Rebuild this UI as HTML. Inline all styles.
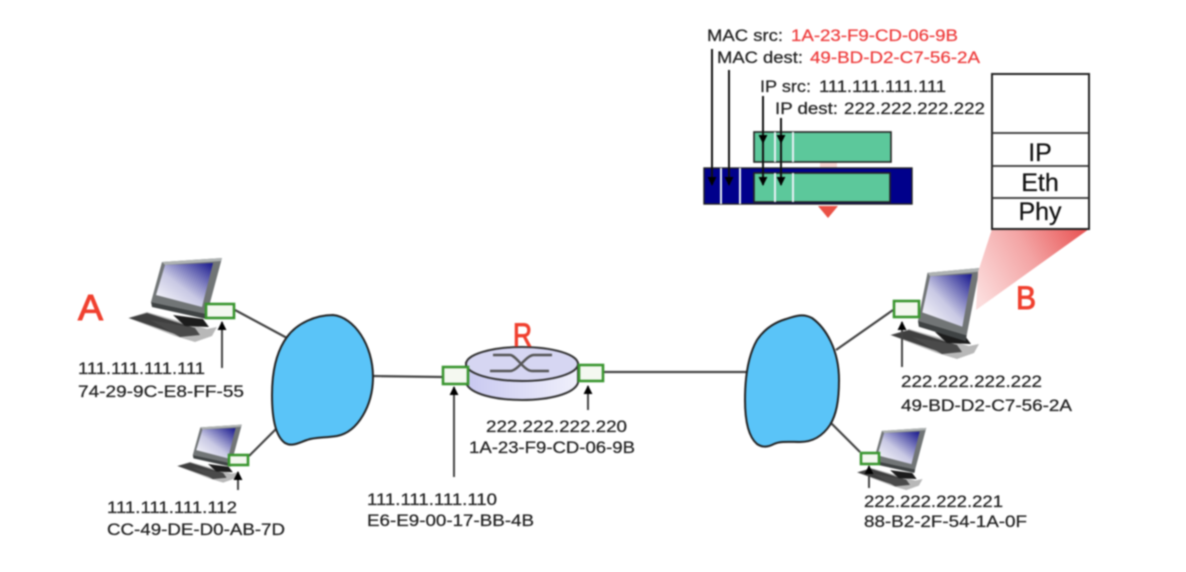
<!DOCTYPE html>
<html>
<head>
<meta charset="utf-8">
<style>
html,body{margin:0;padding:0;background:#fff;width:1186px;height:572px;overflow:hidden}
svg{display:block;filter:blur(.7px)}
text{font-family:"Liberation Sans",sans-serif;fill:#222;font-size:17px;stroke:#222;stroke-width:.25}
.r{fill:#ee3d3d;stroke:#ee3d3d}
.big{fill:#f0402f;stroke:#f0402f;stroke-width:1;font-size:32px}
.st{font-size:25px;text-anchor:middle;fill:#111;stroke:#111}
.nic{fill:#f4f8f0;stroke:#3a9630;stroke-width:2.6}
.ln{stroke:#444;stroke-width:2.2;fill:none}
.ar{stroke:#444;stroke-width:2;fill:none}
.cl{fill:#5ac4f8;stroke:#222;stroke-width:2}
</style>
</head>
<body>
<svg width="1186" height="572" viewBox="0 0 1186 572" xmlns="http://www.w3.org/2000/svg">
<defs>
<linearGradient id="scr" x1="0" y1="1" x2="1" y2="0">
<stop offset="0" stop-color="#ffffff"/><stop offset=".45" stop-color="#c9c9e4"/><stop offset="1" stop-color="#16168c"/>
</linearGradient>
<linearGradient id="pink" gradientUnits="userSpaceOnUse" x1="975" y1="290" x2="1089" y2="229">
<stop offset="0" stop-color="#fbdcdc"/><stop offset=".5" stop-color="#f3a4a4"/><stop offset="1" stop-color="#e84f4f"/>
</linearGradient>
<linearGradient id="rt" x1="0" y1="0" x2="1" y2="0">
<stop offset="0" stop-color="#c8c8f0"/><stop offset="1" stop-color="#f0f0fb"/>
</linearGradient>
<marker id="h" viewBox="0 0 10 10" refX="9" refY="5" markerWidth="9" markerHeight="9" orient="auto" markerUnits="userSpaceOnUse"><path d="M0 0L10 5L0 10z" fill="#000"/></marker>
<g id="kb">
<polygon points="128,318 147,312 207,329 217,327 212,336 195,342 175,336" fill="#b8b8b8"/>
<polygon points="129,318 147,313 195,328 178,335" fill="#3f3f3f"/>
<polygon points="150,320 195,328 200,335 180,337" fill="#4a4a4a"/>
<polygon points="173,315 203,319 209,327 185,326" fill="#1c1c1c"/>
</g>
<g id="mon">
<polygon points="162,262 222,258 207,314 151,302" fill="#717576"/>
<polygon points="162,262 222,258 221,261 165,265" fill="#aeb2b2"/>
<polygon points="151,302 207,314 206,319 152,307" fill="#3f4344"/>
<polygon points="165,265 213,263 202,307 156,295" fill="url(#scr)"/>
</g>
</defs>

<rect width="1186" height="572" fill="#fff"/>

<!-- links -->
<line class="ln" x1="235" y1="310" x2="287" y2="338"/>
<line class="ln" x1="249" y1="456" x2="277" y2="428"/>
<line class="ln" x1="372" y1="376" x2="442" y2="377"/>
<line class="ln" x1="603" y1="372" x2="752" y2="372"/>
<line class="ln" x1="836" y1="350" x2="893" y2="310"/>
<line class="ln" x1="830" y1="422" x2="860" y2="452"/>

<!-- clouds -->
<path class="cl" d="M287 337C297 323 316 315 333 315C354 317 373 345 373 377C373 405 358 432 337 436C325 438 315 437 307 440C298 443 292 447 285 443C278 438 272 425 272 395C272 372 276 352 287 337Z"/>
<path class="cl" d="M757 340C765 328 776 322 786 319C795 316 803 313 812 318C826 328 839 350 839 380C839 402 836 415 830 425C822 437 812 442 800 442C790 442 780 441 774 444C768 447 763 448 757 444C750 438 745 425 745 400C745 375 749 354 757 340Z"/>

<!-- router -->
<path d="M466 363V383C470 394 495 400 522 400C549 400 574 394 578 383V363Z" fill="url(#rt)" stroke="#333" stroke-width="2"/>
<ellipse cx="522" cy="364" rx="56" ry="17" fill="#d6d6f2" stroke="#333" stroke-width="2"/>
<path d="M493 355H510C516 355 524 371 532 371H549M552 355H534C526 355 518 371 510 371H490" fill="none" stroke="#555" stroke-width="2.4"/>

<!-- computers -->
<use href="#kb"/><use href="#mon"/>
<use href="#kb" transform="translate(88.6,246.6) scale(.69)"/><use href="#mon" transform="translate(88.6,246.6) scale(.69)"/>
<use href="#kb" transform="translate(762,17)"/><use href="#mon" transform="translate(786.6,-41.6) scale(.87,1.2)"/>
<use href="#kb" transform="translate(762,237) scale(.74)"/><use href="#mon" transform="translate(762,237) scale(.74)"/>

<!-- pink cone (over monitor B) -->
<polygon points="992,229 1089,229 976,310 978,272" fill="url(#pink)"/>

<!-- NICs -->
<rect class="nic" x="206" y="304" width="28" height="14"/>
<rect class="nic" x="229" y="455" width="19" height="10"/>
<rect class="nic" x="443" y="367" width="25" height="17"/>
<rect class="nic" x="579" y="365" width="24" height="16"/>
<rect class="nic" x="894" y="301" width="25" height="16"/>
<rect class="nic" x="861" y="453" width="18" height="11"/>

<!-- address arrows -->
<line class="ar" x1="222" y1="368" x2="222" y2="322" marker-end="url(#h)"/>
<line class="ar" x1="238" y1="490" x2="238" y2="472" marker-end="url(#h)"/>
<line class="ar" x1="454" y1="477" x2="454" y2="387" marker-end="url(#h)"/>
<line class="ar" x1="588" y1="410" x2="588" y2="386" marker-end="url(#h)"/>
<line class="ar" x1="902" y1="367" x2="902" y2="322" marker-end="url(#h)"/>
<line class="ar" x1="869" y1="488" x2="869" y2="466" marker-end="url(#h)"/>

<!-- frames -->
<polygon points="818,206 838,206 828,218" fill="#ea5045"/>
<rect x="820" y="162" width="17" height="6" fill="#f8d8d4"/>
<rect x="704" y="168" width="208" height="36" fill="#00008b" stroke="#222" stroke-width="1.4"/>
<rect x="754" y="173" width="136" height="29" fill="#5cc89b" stroke="#222" stroke-width="1.6"/>
<rect x="754" y="132" width="137" height="30" fill="#5cc89b" stroke="#222" stroke-width="1.6"/>
<g stroke="#e8f0f4" stroke-width="2">
<line x1="721" y1="168" x2="721" y2="204"/><line x1="740" y1="168" x2="740" y2="204"/>
<line x1="775" y1="173" x2="775" y2="202"/><line x1="793" y1="173" x2="793" y2="202"/>
<line x1="775" y1="132" x2="775" y2="162"/><line x1="793" y1="132" x2="793" y2="162"/>
</g>
<g stroke="#111" stroke-width="2" fill="none">
<line x1="712" y1="49" x2="712" y2="185" marker-end="url(#h)"/>
<line x1="729" y1="70" x2="729" y2="185" marker-end="url(#h)"/>
<line x1="763" y1="96" x2="763" y2="185" marker-end="url(#h)"/>
<line x1="781" y1="118" x2="781" y2="185" marker-end="url(#h)"/>
<line x1="763" y1="130" x2="763" y2="143" marker-end="url(#h)"/>
<line x1="781" y1="130" x2="781" y2="143" marker-end="url(#h)"/>
</g>

<!-- stack -->
<rect x="992" y="74" width="97" height="155" fill="#fff" stroke="#222" stroke-width="2"/>
<g stroke="#333" stroke-width="1.8">
<line x1="992" y1="133" x2="1089" y2="133"/>
<line x1="992" y1="166" x2="1089" y2="166"/>
<line x1="992" y1="198" x2="1089" y2="198"/>
</g>
<text class="st" x="1040" y="161">IP</text>
<text class="st" x="1040" y="191">Eth</text>
<text class="st" x="1040" y="220">Phy</text>

<!-- header labels -->
<text x="707" y="41" textLength="76" lengthAdjust="spacingAndGlyphs">MAC src:</text>
<text class="r" x="791" y="41" textLength="167" lengthAdjust="spacingAndGlyphs">1A-23-F9-CD-06-9B</text>
<text x="717" y="63" textLength="86" lengthAdjust="spacingAndGlyphs">MAC dest:</text>
<text class="r" x="810" y="63" textLength="170" lengthAdjust="spacingAndGlyphs">49-BD-D2-C7-56-2A</text>
<text x="760" y="92" textLength="51" lengthAdjust="spacingAndGlyphs">IP src:</text>
<text x="819" y="92" textLength="127" lengthAdjust="spacingAndGlyphs">111.111.111.111</text>
<text x="775" y="114" textLength="63" lengthAdjust="spacingAndGlyphs">IP dest:</text>
<text x="844" y="114" textLength="141" lengthAdjust="spacingAndGlyphs">222.222.222.222</text>

<!-- address labels -->
<text x="78" y="374" textLength="127" lengthAdjust="spacingAndGlyphs">111.111.111.111</text>
<text x="78" y="397" textLength="166" lengthAdjust="spacingAndGlyphs">74-29-9C-E8-FF-55</text>
<text x="107" y="513" textLength="130" lengthAdjust="spacingAndGlyphs">111.111.111.112</text>
<text x="107" y="535" textLength="178" lengthAdjust="spacingAndGlyphs">CC-49-DE-D0-AB-7D</text>
<text x="367" y="505" textLength="130" lengthAdjust="spacingAndGlyphs">111.111.111.110</text>
<text x="367" y="526" textLength="167" lengthAdjust="spacingAndGlyphs">E6-E9-00-17-BB-4B</text>
<text x="486" y="432" textLength="141" lengthAdjust="spacingAndGlyphs">222.222.222.220</text>
<text x="469" y="453" textLength="166" lengthAdjust="spacingAndGlyphs">1A-23-F9-CD-06-9B</text>
<text x="901" y="387" textLength="141" lengthAdjust="spacingAndGlyphs">222.222.222.222</text>
<text x="901" y="411" textLength="171" lengthAdjust="spacingAndGlyphs">49-BD-D2-C7-56-2A</text>
<text x="864" y="507" textLength="139" lengthAdjust="spacingAndGlyphs">222.222.222.221</text>
<text x="864" y="527" textLength="163" lengthAdjust="spacingAndGlyphs">88-B2-2F-54-1A-0F</text>

<!-- node letters -->
<text class="big" x="78" y="320" textLength="25" lengthAdjust="spacingAndGlyphs" style="font-size:36px">A</text>
<text class="big" x="513" y="346" textLength="19" lengthAdjust="spacingAndGlyphs">R</text>
<text class="big" x="1016" y="309" textLength="20" lengthAdjust="spacingAndGlyphs">B</text>
</svg>
</body>
</html>
